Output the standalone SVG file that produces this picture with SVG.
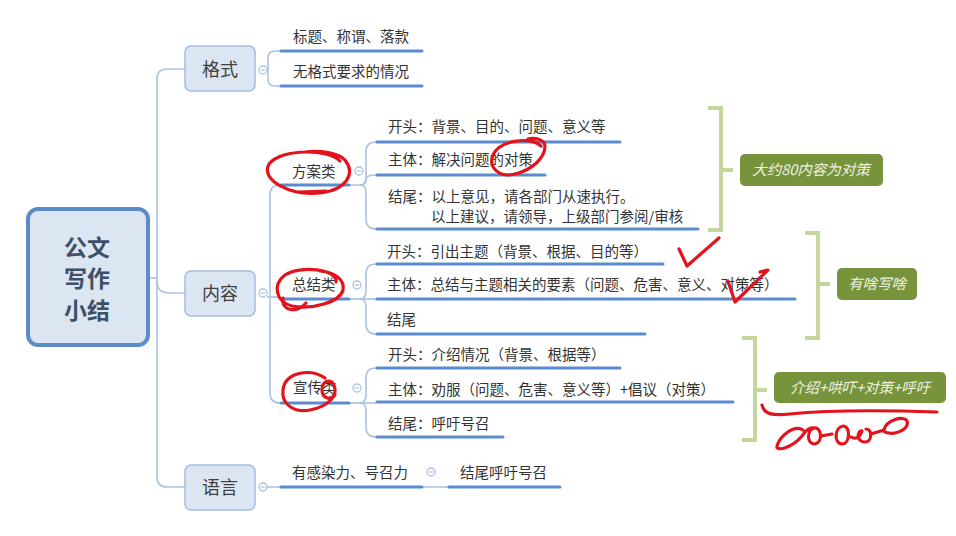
<svg xmlns="http://www.w3.org/2000/svg" width="956" height="536" viewBox="0 0 956 536">
<style>
text{font-family:"Noto Sans CJK SC","Noto Sans",sans-serif;fill:#333}
.t{font-size:14.5px}
.nb{fill:#dce6f2;stroke:#a3bde0;stroke-width:1.5}
.nt{font-size:18px;text-anchor:middle;fill:#404040}
.con{fill:none;stroke:#a9c2e4;stroke-width:1.6}
.ul{stroke:#5b8bd0;stroke-width:3;stroke-linecap:round}
.cir{fill:#fff;stroke:#a9c2e4;stroke-width:1.3}
.mn{stroke:#a9c2e4;stroke-width:1.2}
.gb{fill:none;stroke:#c3d69b;stroke-width:4}
.gbox{fill:#77933c}
.gt{font-size:14.5px;font-style:italic;fill:#eef3e4;text-anchor:middle}
.red{fill:none;stroke:#e3121c;stroke-width:3.2;stroke-linecap:round;stroke-linejoin:round}
</style>
<rect width="956" height="536" fill="#fff"/>

<g id="connectors">
  <path class="con" d="M148 278 H157"/>
  <path class="con" d="M185 69 H167 Q157 69 157 79 V477 Q157 487 167 487 H185"/>
  <path class="con" d="M157 282 Q157 293 170 293 H185"/>
  <path class="con" d="M267 70 H268 M280 51 H275 Q268 51 268 58 V79 Q268 86 275 86 H280"/>
  <path class="con" d="M280 185 Q270 185 270 195 V393 Q270 403 280 403"/>
  <path class="con" d="M267 297 H280"/>
  <path class="con" d="M350 185 H360 Q366 185 366 177 V152 Q366 142 376 142"/>
  <path class="con" d="M360 185 Q366 185 366 180 Q366 175 376 175"/>
  <path class="con" d="M360 185 Q366 185 366 193 V219 Q366 229 376 229"/>
  <path class="con" d="M350 299 H376"/>
  <path class="con" d="M360 299 Q366 299 366 291 V274 Q366 264 376 264"/>
  <path class="con" d="M360 299 Q366 299 366 307 V324 Q366 334 376 334"/>
  <path class="con" d="M350 403 H376"/>
  <path class="con" d="M360 403 Q366 403 366 395 V378 Q366 368 376 368"/>
  <path class="con" d="M360 403 Q366 403 366 411 V427 Q366 437 376 437"/>
  <path class="con" d="M267 487 H280 M422 487 H448"/>
</g>

<g id="root">
  <rect x="28" y="209" width="120" height="136" rx="10" fill="#dce6f2" stroke="#5b8cc8" stroke-width="4"/>
  <text x="87" y="256" font-size="23" font-weight="bold" text-anchor="middle" style="fill:#3d5068">公文</text>
  <text x="87" y="287" font-size="23" font-weight="bold" text-anchor="middle" style="fill:#3d5068">写作</text>
  <text x="87" y="319" font-size="23" font-weight="bold" text-anchor="middle" style="fill:#3d5068">小结</text>
</g>

<g id="geshi">
  <rect class="nb" x="185" y="46" width="70" height="45" rx="6"/>
  <text class="nt" x="220" y="76">格式</text>
  <circle class="cir" cx="263" cy="70" r="4"/><path class="mn" d="M261 70 H265"/>
</g>
<g id="geshi-1"><text class="t" x="293" y="42">标题、称谓、落款</text><path class="ul" d="M281 51 H422"/></g>
<g id="geshi-2"><text class="t" x="293" y="77">无格式要求的情况</text><path class="ul" d="M281 86 H422"/></g>

<g id="neirong">
  <rect class="nb" x="185" y="271" width="70" height="45" rx="6"/>
  <text class="nt" x="220" y="300">内容</text>
  <circle class="cir" cx="263" cy="293" r="4"/><path class="mn" d="M261 293 H265"/>
</g>

<g id="fangan">
  <text class="t" x="292" y="177">方案类</text><path class="ul" d="M281 185 H349"/>
  <circle class="cir" cx="359" cy="171" r="4"/><path class="mn" d="M357 171 H361"/>
</g>
<g id="fangan-1"><text class="t" x="388" y="132">开头：背景、目的、问题、意义等</text><path class="ul" d="M377 142 H620"/></g>
<g id="fangan-2"><text class="t" x="388" y="165">主体：解决问题的对策</text><path class="ul" d="M377 175 H545"/></g>
<g id="fangan-3"><text class="t" x="388" y="202">结尾：以上意见，请各部门从速执行。</text><text class="t" x="431" y="222">以上建议，请领导，上级部门参阅/审核</text><path class="ul" d="M377 229 H698"/></g>

<g id="zongjie">
  <text class="t" x="292" y="290">总结类</text><path class="ul" d="M281 299 H349"/>
  <circle class="cir" cx="357" cy="285" r="4"/><path class="mn" d="M355 285 H359"/>
</g>
<g id="zongjie-1"><text class="t" x="387" y="257">开头：引出主题（背景、根据、目的等）</text><path class="ul" d="M377 264 H663"/></g>
<g id="zongjie-2"><text class="t" x="387" y="290">主体：总结与主题相关的要素（问题、危害、意义、对策等）</text><path class="ul" d="M377 299 H795"/></g>
<g id="zongjie-3"><text class="t" x="387" y="325">结尾</text><path class="ul" d="M377 334 H645"/></g>

<g id="xuanchuan">
  <text class="t" x="293" y="393">宣传类</text><path class="ul" d="M281 403 H349"/>
  <circle class="cir" cx="357" cy="388" r="4"/><path class="mn" d="M355 388 H359"/>
</g>
<g id="xuanchuan-1"><text class="t" x="388" y="360">开头：介绍情况（背景、根据等）</text><path class="ul" d="M377 368 H620"/></g>
<g id="xuanchuan-2"><text class="t" x="388" y="395">主体：劝服（问题、危害、意义等）+倡议（对策）</text><path class="ul" d="M377 402 H733"/></g>
<g id="xuanchuan-3"><text class="t" x="388" y="429">结尾：呼吁号召</text><path class="ul" d="M377 437 H503"/></g>

<g id="yuyan">
  <rect class="nb" x="185" y="465" width="70" height="45" rx="6"/>
  <text class="nt" x="220" y="494">语言</text>
  <circle class="cir" cx="263" cy="487" r="4"/><path class="mn" d="M261 487 H265"/>
</g>
<g id="yuyan-1"><text class="t" x="292" y="478">有感染力、号召力</text><path class="ul" d="M281 487 H422"/>
  <circle class="cir" cx="431" cy="472" r="4"/><path class="mn" d="M429 472 H433"/></g>
<g id="yuyan-2"><text class="t" x="460" y="478">结尾呼吁号召</text><path class="ul" d="M449 487 H560"/></g>

<g id="summary-1">
  <path class="gb" d="M708 108 H721 V230 H708 M721 170 H733"/>
  <rect class="gbox" x="740" y="154" width="143" height="32" rx="5"/>
  <text class="gt" x="811" y="175">大约80内容为对策</text>
</g>
<g id="summary-2">
  <path class="gb" d="M805 233 H818 V338 H805 M818 284 H830"/>
  <rect class="gbox" x="837" y="268" width="80" height="32" rx="5"/>
  <text class="gt" x="877" y="289">有啥写啥</text>
</g>
<g id="summary-3">
  <path class="gb" d="M742 338 H755 V440 H742 M755 390 H767"/>
  <rect class="gbox" x="774" y="372" width="172" height="31" rx="5"/>
  <text class="gt" x="860" y="393">介绍+哄吓+对策+呼吁</text>
</g>

<g id="annotations">
  <path class="red" d="M340 161 C330 149 282 148 269 164 C260 180 290 196 320 193 C346 190 356 174 345 160 C339 153 320 150 305 152"/>
  <path class="red" stroke-width="5" d="M299 192 L326 191"/>
  <path class="red" d="M336 282 C338 269 300 265 285 275 C272 285 276 302 292 306 C312 310 340 302 343 290 C345 280 335 272 320 271"/>
  <path class="red" d="M283 298 C281 312 298 313 306 303"/>
  <path class="red" d="M325 378 C310 368 285 372 283 390 C281 405 295 413 310 410 C330 406 338 395 334 385 C330 378 322 381 322 390 C322 398 330 401 335 395"/>
  <path class="red" d="M541 146 C531 136 500 140 493 155 C488 168 500 178 515 174 C532 170 545 158 545 146 C545 140 535 137 528 139"/>
  <path class="red" d="M679 249 L687 266 L719 238"/>
  <path class="red" d="M728 281 L735 302 L768 270 L760 272"/>
  <path class="red" d="M762 405 C764 414 772 416 790 414 C830 410 880 410 937 412"/>
  <path class="red" d="M803 430 C794 424 780 436 777 446 C776 452 792 448 802 436 C806 430 810 427 814 428 C807 430 806 444 815 444 C823 442 822 427 814 428 M821 436 L832 434 M843 426 C835 427 833 443 842 444 C850 444 851 426 843 426 M851 437 C856 440 860 437 862 431 C857 430 856 442 865 442 C872 442 873 429 866 429 M871 434 L884 430 C886 420 904 415 907 421 C910 430 892 437 883 431"/>
</g>
</svg>
